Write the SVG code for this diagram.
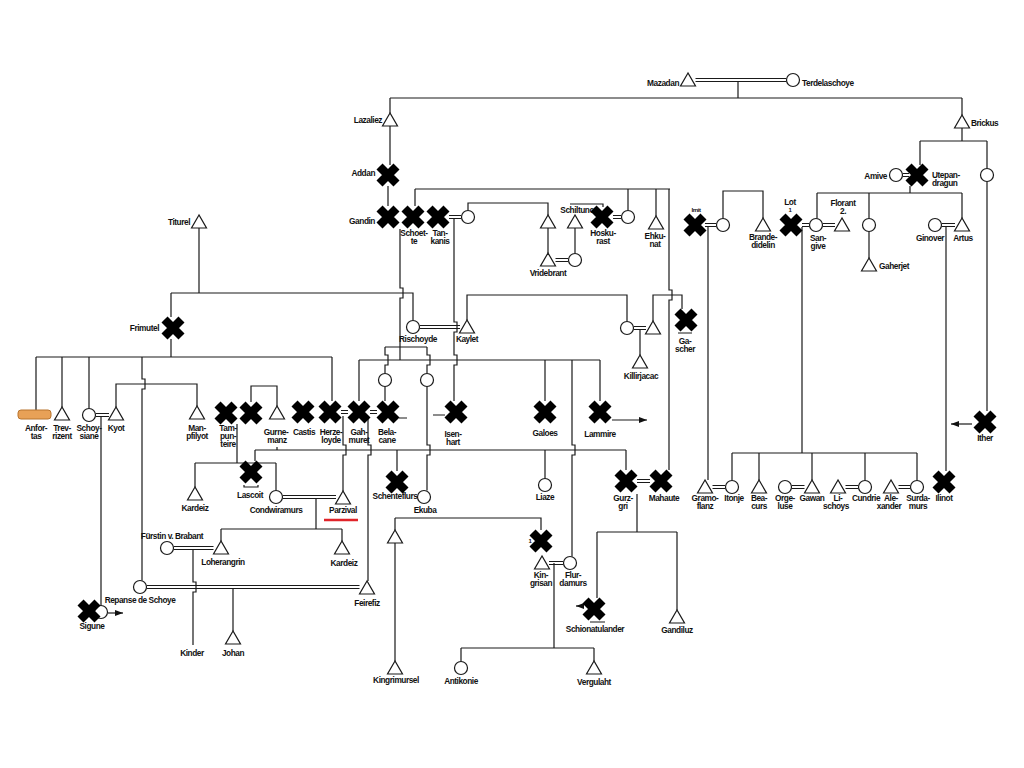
<svg xmlns="http://www.w3.org/2000/svg" width="1024" height="768" viewBox="0 0 1024 768">
<style>
.ln{fill:none;stroke:#1a1a1a;stroke-width:1.2}
.dl{fill:none;stroke:#1a1a1a;stroke-width:1}
.sh{fill:#fff;stroke:#1a1a1a;stroke-width:1.2}
text{font-family:"Liberation Sans",Arial,sans-serif;font-size:8.3px;font-weight:bold;letter-spacing:-0.45px;fill:#111;text-anchor:middle}
.s{font-size:6px}
.e{text-anchor:end}
.st{text-anchor:start}
</style>
<defs>
<polygon id="tri" class="sh" points="0,-7 -7.5,6 7.5,6"/>
<circle id="cir" class="sh" r="6.5"/>
<path id="x" d="M-8.5,-8.5L8.5,8.5M8.5,-8.5L-8.5,8.5" stroke="#000" stroke-width="8.5" fill="none"/>
<marker id="ar" viewBox="0 0 8 6" refX="8" refY="3" markerWidth="8" markerHeight="6" orient="auto" markerUnits="userSpaceOnUse"><path d="M0,0L8,3L0,6z" fill="#111"/></marker>
</defs>
<rect width="1024" height="768" fill="#fff"/>
<g id="connectors">
<path class="dl" d="M695.5,78.5H786.5M695.5,81.5H786.5"/>
<path class="ln" d="M738,81.5V98M390,98H962M390,98V113M390,126V165M388,186V206M962,98V115M962,128V141M920,141H987M920,141V165M987,141V168.5M987,181.5V411"/>
<path class="ln" d="M972,424H951" marker-end="url(#ar)"/>
<path class="dl" d="M902.5,173.5H909M902.5,176.5H909"/>
<path class="ln" d="M910,186V193M817,193H962M817,193V218.5M869,193V218.5M869,231.5V258M962,193V218"/>
<path class="dl" d="M941.5,223.5H955M941.5,226.5H955"/>
<path class="ln" d="M946,227V471"/>
<path class="dl" d="M705,223.5H716.5M705,226.5H716.5M802,223.5H809.5M802,226.5H809.5M822.5,223.5H835M822.5,226.5H835"/>
<path class="ln" d="M723,218.5V191H763V218M708,227V480M802,227V453"/>
<path class="ln" d="M732,453H917M732,453V480.5M759,453V480M812,453V480M865,453V480.5M917,453V480.5"/>
<path class="dl" d="M712.5,485.5H725.5M712.5,488.5H725.5M791.5,485.5H804.5M791.5,488.5H804.5M845.5,485.5H858.5M845.5,488.5H858.5M898.5,485.5H910.5M898.5,488.5H910.5"/>
<path class="ln" d="M415,189H670M415,189V206M628,189V210.5M656,189V216M669,189V290h3v10h-3V470"/>
<path class="dl" d="M449,215.5H461.5M449,218.5H461.5M613,215.5H621.5M613,218.5H621.5"/>
<path class="ln" d="M454,218V322h3v10h-3V355h3v10h-3V401"/>
<path class="ln" d="M468,210.5V203H548V215M548,228V253M575,253.5V228M570,204H603V207"/>
<path class="dl" d="M555.5,258.5H568.5M555.5,261.5H568.5"/>
<path class="ln" d="M199,228V293M171,293H413V320.5M171,293V317M171,339V357M400,229V288h3v10h-3V360"/>
<path class="ln" d="M385,347H427M385,347V355h3v10h-3V373.5M427,347V355h3v10h-3V373.5M385,386.5V401M427,386.5V445h3v10h-3V490.5"/>
<path class="ln" d="M359,360H600M359,360V401M545,360V401M600,360V401M572,360V445h3v10h-3V556.5"/>
<path class="dl" d="M419.5,325.5H460M419.5,328.5H460M633.5,326.5H646M633.5,329.5H646"/>
<path class="ln" d="M467,320V295H627V321.5M653,321V295H682V309M640,330V355"/>
<path class="ln" d="M36,357H332M36,357V411M62,357V407M89,357V408.5M332,357V401M142,357V379h3v10h-3V580.5"/>
<path class="dl" d="M95.5,413.5H109M95.5,416.5H109"/>
<path class="ln" d="M101,416V605.5M116,407V384H197V406M251,402V386H277V406M237,424V463M195,463H276M195,463V487M276,463V490.5"/>
<path class="ln" d="M277,447V450M255,450H626M255,450V461M397,450V471M545,450V478.5M626,450V470"/>
<path class="dl" d="M341,410.5H348M341,413.5H348M370,410.5H377M370,413.5H377"/>
<path class="ln" d="M343,416V445h3v10h-3V491M368,416V445h3v10h-3V581"/>
<path class="ln" d="M399,418H407M445,415H433M612,420H647" marker-end="url(#ar)"/>
<path class="dl" d="M282.5,495.5H336M282.5,498.5H336M173.5,546.5H213.5M173.5,549.5H213.5M146.5,585.5H359.5M146.5,588.5H359.5"/>
<path class="ln" d="M316,498V529M221,529H342M342,529V541M221,529V541M193,549V582h3v10h-3V645M233,588V631"/>
<path class="ln" d="M108,613H123" marker-end="url(#ar)"/>
<path class="ln" d="M395,518H541V530M395,518V530M395,543V661"/>
<path class="dl" d="M549,561.5H563.5M549,564.5H563.5M637,479.5H650M637,482.5H650"/>
<path class="ln" d="M554,563V648M461,648H594M461,648V661.5M594,648V661M637,494V532M597,532H677M597,532V598M677,532V610"/>
<path class="ln" d="M584,606H576" marker-end="url(#ar)"/>
<path class="ln" d="M678,333H692M244,485V487H258V485M590,622H605"/>
</g>
<g id="mazadan"><use href="#tri" x="688" y="80"/><text x="679" y="86" class="e">Mazadan</text></g>
<g id="terdelaschoye"><use href="#cir" x="793" y="80"/><text x="802" y="86" class="st">Terdelaschoye</text></g>
<g id="lazaliez"><use href="#tri" x="390" y="120"/><text x="382" y="123" class="e">Lazaliez</text></g>
<g id="brickus"><use href="#tri" x="962" y="122"/><text x="971" y="126" class="st">Brickus</text></g>
<g id="addan"><use href="#x" x="388" y="175"/><text x="375" y="176" class="e">Addan</text></g>
<g id="gandin"><use href="#x" x="388" y="217"/><text x="375" y="224" class="e">Gandin</text></g>
<g id="schoette"><use href="#x" x="413" y="217"/><text x="414" y="236">Schoet-</text><text x="414" y="244">te</text></g>
<g id="tankanis"><use href="#x" x="438" y="217"/><text x="440" y="236">Tan-</text><text x="440" y="244">kanis</text></g>
<g id="tankanis-wife"><use href="#cir" x="468" y="217"/></g>
<g id="vridebrant-father"><use href="#tri" x="548" y="222"/></g>
<g id="vridebrant"><use href="#tri" x="548" y="260"/><text x="548" y="276">Vridebrant</text></g>
<g id="vridebrant-wife"><use href="#cir" x="575" y="260"/></g>
<g id="schiltunc"><use href="#tri" x="575" y="222"/><text x="577" y="213">Schiltunc</text></g>
<g id="hoskurast"><use href="#x" x="602" y="217"/><text x="603" y="236">Hosku-</text><text x="603" y="244">rast</text></g>
<g id="hoskurast-wife"><use href="#cir" x="628" y="217"/></g>
<g id="ehkunat"><use href="#tri" x="656" y="223"/><text x="655" y="239">Ehku-</text><text x="655" y="247">nat</text></g>
<g id="irnit"><use href="#x" x="695" y="225"/><text x="696" y="212" class="s">Irnit</text></g>
<g id="irnit-wife"><use href="#cir" x="723" y="225"/></g>
<g id="brandedidelin"><use href="#tri" x="763" y="225"/><text x="763" y="240">Brande-</text><text x="763" y="248">didelin</text></g>
<g id="lot"><use href="#x" x="791" y="225"/><text x="790" y="205">Lot</text><text x="790" y="212" class="s">1</text></g>
<g id="sangive"><use href="#cir" x="816" y="225"/><text x="818" y="241">San-</text><text x="818" y="249">give</text></g>
<g id="florant"><use href="#tri" x="842" y="225"/><text x="843" y="206">Florant</text><text x="843" y="214">2.</text></g>
<g id="amive"><use href="#cir" x="896" y="175"/><text x="887" y="179" class="e">Amive</text></g>
<g id="utepandragun"><use href="#x" x="917" y="175"/><text x="932" y="178" class="st">Utepan-</text><text x="932" y="186" class="st">dragun</text></g>
<g id="brickus-daughter"><use href="#cir" x="987" y="175"/></g>
<g id="gaherjet-mother"><use href="#cir" x="869" y="225"/></g>
<g id="gaherjet"><use href="#tri" x="869" y="265"/><text x="879" y="269" class="st">Gaherjet</text></g>
<g id="ginover"><use href="#cir" x="935" y="225"/><text x="930" y="241">Ginover</text></g>
<g id="artus"><use href="#tri" x="962" y="225"/><text x="963" y="241">Artus</text></g>
<g id="ither"><use href="#x" x="985" y="422"/><text x="985" y="441">Ither</text></g>
<g id="titurel"><use href="#tri" x="199" y="222"/><text x="190" y="225" class="e">Titurel</text></g>
<g id="frimutel"><use href="#x" x="173" y="328"/><text x="159" y="331" class="e">Frimutel</text></g>
<g id="rischoyde"><use href="#cir" x="413" y="327"/><text x="418" y="342">Rischoyde</text></g>
<g id="kaylet"><use href="#tri" x="467" y="327"/><text x="467" y="342">Kaylet</text></g>
<g id="killirjacac-mother"><use href="#cir" x="627" y="328"/></g>
<g id="killirjacac-father"><use href="#tri" x="653" y="328"/></g>
<g id="gascher"><use href="#x" x="686" y="320"/><text x="685" y="344">Ga-</text><text x="685" y="352">scher</text></g>
<g id="killirjacac"><use href="#tri" x="640" y="362"/><text x="641" y="379">Killirjacac</text></g>
<g id="anfortas"><rect x="18" y="410" width="33" height="9" rx="3" fill="#E8A157" stroke="#B8742E" stroke-width="1"/><text x="36" y="431">Anfor-</text><text x="36" y="439">tas</text></g>
<g id="trevrizent"><use href="#tri" x="62" y="414"/><text x="62" y="431">Trev-</text><text x="62" y="439">rizent</text></g>
<g id="schoysiane"><use href="#cir" x="89" y="415"/><text x="89" y="431">Schoy-</text><text x="89" y="439">siane</text></g>
<g id="kyot"><use href="#tri" x="116" y="414"/><text x="116" y="431">Kyot</text></g>
<g id="manpfilyot"><use href="#tri" x="197" y="413"/><text x="197" y="431">Man-</text><text x="197" y="439">pfilyot</text></g>
<g id="tampunteire"><use href="#x" x="226" y="413"/><text x="228" y="431">Tam-</text><text x="228" y="439">pun-</text><text x="228" y="447">teire</text></g>
<g id="gurnemanz-sibling"><use href="#x" x="251" y="413"/></g>
<g id="gurnemanz"><use href="#tri" x="277" y="413"/><text x="276" y="435">Gurne-</text><text x="277" y="443">manz</text></g>
<g id="castis"><use href="#x" x="303" y="412"/><text x="304" y="435">Castis</text></g>
<g id="herzeloyde"><use href="#x" x="330" y="412"/><text x="331" y="435">Herze-</text><text x="331" y="443">loyde</text></g>
<g id="gahmuret"><use href="#x" x="359" y="412"/><text x="359" y="435">Gah-</text><text x="359" y="443">muret</text></g>
<g id="belacane"><use href="#x" x="388" y="412"/><text x="387" y="435">Bela-</text><text x="387" y="443">cane</text></g>
<g id="daughter-a"><use href="#cir" x="385" y="380"/></g>
<g id="daughter-b"><use href="#cir" x="427" y="380"/></g>
<g id="isenhart"><use href="#x" x="456" y="412"/><text x="453" y="437">Isen-</text><text x="453" y="445">hart</text></g>
<g id="galoes"><use href="#x" x="545" y="412"/><text x="545" y="436">Galoes</text></g>
<g id="lammire"><use href="#x" x="600" y="412"/><text x="600" y="437">Lammire</text></g>
<g id="lascoit"><use href="#x" x="251" y="472"/><text x="250" y="498">Lascoit</text></g>
<g id="kardeiz-1"><use href="#tri" x="195" y="494"/><text x="195" y="511">Kardeiz</text></g>
<g id="condwiramurs"><use href="#cir" x="276" y="497"/><text x="276" y="513">Condwiramurs</text></g>
<g id="parzival"><use href="#tri" x="343" y="498"/><text x="343" y="513">Parzival</text><path d="M324,520H358" stroke="#e0242a" stroke-width="2.5"/></g>
<g id="kardeiz-2"><use href="#tri" x="342" y="548"/><text x="344" y="566">Kardeiz</text></g>
<g id="loherangrin"><use href="#tri" x="221" y="548"/><text x="223" y="565">Loherangrin</text></g>
<g id="fuerstin"><use href="#cir" x="167" y="548"/><text x="172" y="539">Fürstin v. Brabant</text></g>
<g id="kinder"><text x="192" y="656">Kinder</text></g>
<g id="repanse"><use href="#cir" x="140" y="587"/><text x="140" y="603">Repanse de Schoye</text></g>
<g id="feirefiz"><use href="#tri" x="367" y="588"/><text x="367" y="606">Feirefiz</text></g>
<g id="johan"><use href="#tri" x="233" y="638"/><text x="233" y="656">Johan</text></g>
<g id="sigune"><use href="#cir" x="101" y="612"/><use href="#x" x="89" y="611"/><text x="92" y="629">Sigune</text></g>
<g id="schenteflurs"><use href="#x" x="397" y="482"/><text x="395" y="499">Schenteflurs</text></g>
<g id="ekuba"><use href="#cir" x="424" y="497"/><text x="425" y="513">Ekuba</text></g>
<g id="kingrimursel-father"><use href="#tri" x="395" y="537"/></g>
<g id="kingrimursel"><use href="#tri" x="395" y="668"/><text x="396" y="683">Kingrimursel</text></g>
<g id="kingrisin-father"><use href="#x" x="541" y="541"/><text x="530" y="543" class="s">1</text></g>
<g id="kingrisin"><use href="#tri" x="542" y="563"/><text x="541" y="578">Kin-</text><text x="541" y="586">grisan</text></g>
<g id="flurdamurs"><use href="#cir" x="570" y="563"/><text x="573" y="578">Flur-</text><text x="573" y="586">damurs</text></g>
<g id="antikonie"><use href="#cir" x="461" y="668"/><text x="461" y="684">Antikonie</text></g>
<g id="vergulaht"><use href="#tri" x="594" y="668"/><text x="594" y="685">Vergulaht</text></g>
<g id="liaze"><use href="#cir" x="545" y="485"/><text x="545" y="500">Liaze</text></g>
<g id="gurzgri"><use href="#x" x="626" y="481"/><text x="623" y="501">Gurz-</text><text x="623" y="509">gri</text></g>
<g id="mahaute"><use href="#x" x="661" y="481"/><text x="664" y="501">Mahaute</text></g>
<g id="schionatulander"><use href="#x" x="594" y="609"/><text x="595" y="632">Schionatulander</text></g>
<g id="gandiluz"><use href="#tri" x="677" y="617"/><text x="677" y="633">Gandiluz</text></g>
<g id="gramoflanz"><use href="#tri" x="705" y="487"/><text x="705" y="501">Gramo-</text><text x="705" y="509">flanz</text></g>
<g id="itonje"><use href="#cir" x="732" y="487"/><text x="734" y="501">Itonje</text></g>
<g id="beacurs"><use href="#tri" x="759" y="487"/><text x="759" y="501">Bea-</text><text x="759" y="509">curs</text></g>
<g id="orgeluse"><use href="#cir" x="785" y="487"/><text x="785" y="501">Orge-</text><text x="785" y="509">luse</text></g>
<g id="gawan"><use href="#tri" x="812" y="487"/><text x="812" y="501">Gawan</text></g>
<g id="lischoys"><use href="#tri" x="838" y="487"/><text x="838" y="501">Li-</text><text x="836" y="509">schoys</text></g>
<g id="cundrie"><use href="#cir" x="865" y="487"/><text x="866" y="501">Cundrie</text></g>
<g id="alexander"><use href="#tri" x="891" y="487"/><text x="891" y="501">Ale-</text><text x="889" y="509">xander</text></g>
<g id="surdamurs"><use href="#cir" x="917" y="487"/><text x="918" y="501">Surda-</text><text x="918" y="509">murs</text></g>
<g id="ilinot"><use href="#x" x="944" y="482"/><text x="944" y="501">Ilinot</text></g>
</svg>
